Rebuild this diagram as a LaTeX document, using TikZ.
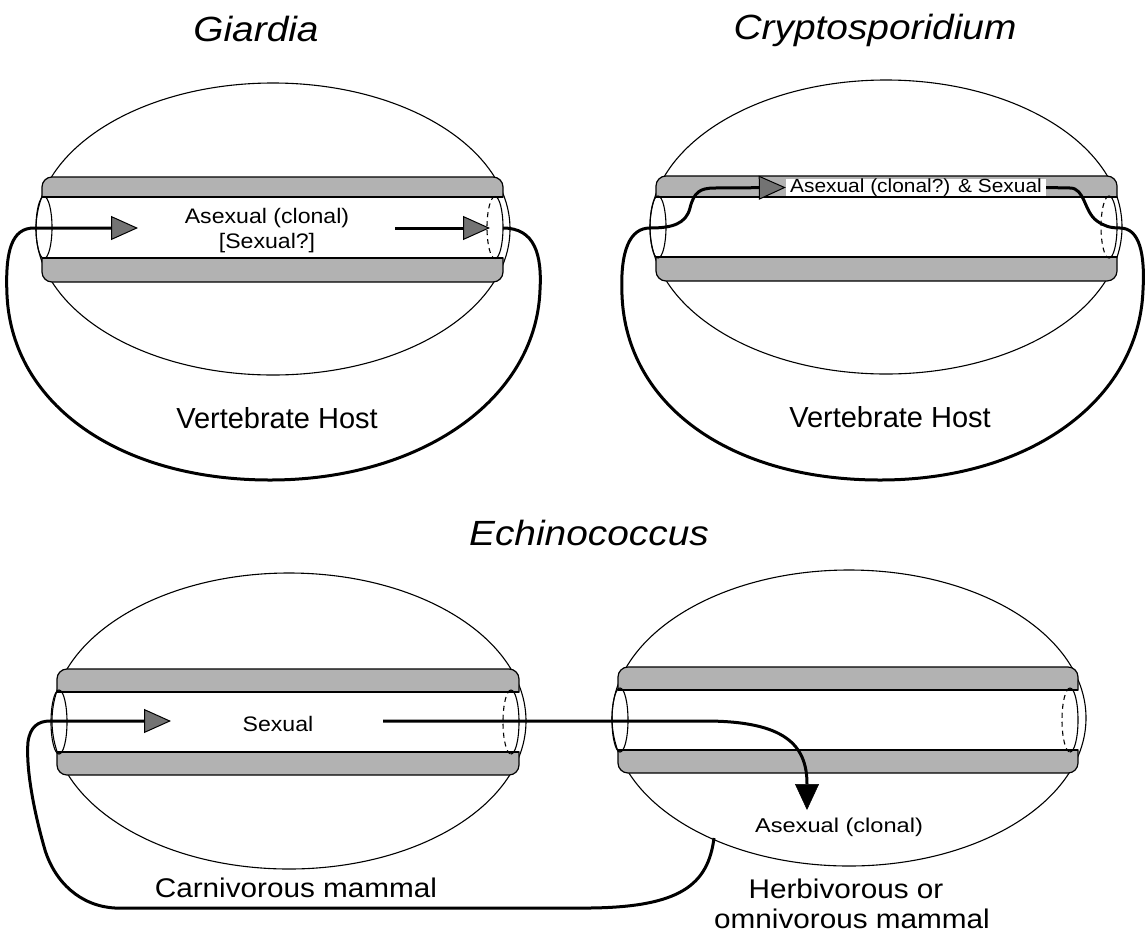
\documentclass[tikz,border=0pt]{standalone}
\usepackage{fontspec}
\setmainfont{Liberation Sans}
\usepackage{graphicx}
\usetikzlibrary{arrows.meta}
\newcommand\hx[2]{\scalebox{#1}[1]{#2}}
\newcommand\fs[1]{\fontsize{#1}{#1}\selectfont}
% tube: #1 xl, #2 xr, #3 t1, #4 t2, #5 b1, #6 b2, #7 cy, #8 ry
\newcommand\drawtube[8]{%
  \filldraw[band] (#1,-#4) -- (#1,-#3-10) arc[start angle=180,end angle=90,radius=10]
     -- (#2-10,-#3) arc[start angle=90,end angle=0,radius=10] -- (#2,-#4) -- cycle;
  \filldraw[band] (#1,-#5) -- (#1,-#6+10) arc[start angle=180,end angle=270,radius=10]
     -- (#2-10,-#6) arc[start angle=270,end angle=360,radius=10] -- (#2,-#5) -- cycle;
  \draw[edge] (#1,-#4) -- (#2,-#4);
  \draw[edge] (#1,-#5) -- (#2,-#5);
  \draw[host] (#1+2,-#7) ellipse [x radius=8, y radius=#8];
  \draw[host, dash pattern=on 5pt off 4pt] (#2-8,-#7+#8) arc[start angle=90,end angle=270,x radius=8,y radius=#8];
  \draw[host] (#2-8,-#7-#8) arc[start angle=270,end angle=450,x radius=8,y radius=#8];
}
\tikzset{
  host/.style={line width=1.1pt},
  band/.style={fill=black!30, draw=black, line width=1.2pt},
  edge/.style={line width=2pt},
  loopline/.style={line width=3pt},
  tipG/.style={-{Triangle[length=27pt,width=24pt,line width=1pt,fill=black!55]}},
  tipK/.style={-{Triangle[length=26pt,width=24pt,line width=0.5pt]}},
  ttl/.style={font=\fs{35}\itshape, inner sep=0pt, anchor=base},
  lbl/.style={inner sep=0pt, anchor=base}
}
\begin{document}
\begin{tikzpicture}[x=1pt,y=1pt]
\useasboundingbox (0,0) rectangle (1148,-935);
% titles
\node[ttl] (tG) at (256,-41) {\hx{1.11}{Giardia}};
\node[ttl] (tC) at (875,-39) {\hx{1.11}{Cryptosporidium}};
\node[ttl] (tE) at (589,-545) {\hx{1.11}{Echinococcus}};

% ---------------- Giardia ----------------
\draw[host] (273,-229) ellipse [x radius=237, y radius=146];
\drawtube{42}{503}{177}{197}{258}{282}{227.5}{31}
\node[lbl, font=\fs{21}] (g1) at (267,-223) {\hx{1.1}{Asexual (clonal)}};
\node[lbl, font=\fs{21}] (g2) at (267,-248) {\hx{1.1}{[Sexual?]}};
\node[lbl, font=\fs{29}] (gH) at (277,-428) {Vertebrate Host};
\coordinate (gL) at (34,-228);
\coordinate (gA) at (138,-228);
\coordinate (gB) at (395,-228);
\coordinate (gC) at (490,-228);
\coordinate (gR) at (503,-228);
\draw[loopline, tipG] (gR) .. controls (535,-228) and (542,-255) .. (540,-290)
  .. controls (536,-400) and (420,-480) .. (270,-480)
  .. controls (120,-480) and (12,-405) .. (7,-295)
  .. controls (5,-250) and (12,-228) .. (gL) -- (gA);
\draw[loopline, tipG] (gB) -- (gC);

% ---------------- Cryptosporidium ----------------
\draw[host] (886,-227) ellipse [x radius=236, y radius=147];
\drawtube{656}{1117}{176}{197}{257}{281}{227}{31}
\node[fill=white, minimum width=260pt, minimum height=17pt, inner sep=0pt, font=\fs{19}] (cbox) at (916,-187.5) {\hx{1.1}{Asexual (clonal?) \& Sexual}};
\node[lbl, font=\fs{29}] (cH) at (890,-427) {Vertebrate Host};
\coordinate (cL) at (650,-228);
\coordinate (cR) at (1120,-228);
\draw[loopline, tipG] (cbox.east) -- (1070,-188)
  .. controls (1085,-188) and (1084,-212) .. (1097,-221)
  .. controls (1104,-226) and (1110,-228) .. (cR)
  .. controls (1140,-228) and (1145,-255) .. (1143,-290)
  .. controls (1139,-400) and (1030,-480) .. (880,-480)
  .. controls (730,-480) and (626,-405) .. (622,-295)
  .. controls (620,-250) and (630,-228) .. (cL)
  .. controls (672,-228) and (686,-224) .. (690,-208)
  .. controls (694,-192) and (700,-188) .. (715,-188) -- (cbox.west);

% ---------------- Echinococcus ----------------
\draw[host] (289,-721) ellipse [x radius=237, y radius=148];
\draw[host] (849,-718) ellipse [x radius=237, y radius=148];
\drawtube{57}{519}{669}{692}{752}{775}{722}{32}
\drawtube{618}{1078}{667}{690}{750}{773}{720}{32}
\node[lbl, font=\fs{21}] (eS) at (278,-731) {\hx{1.1}{Sexual}};
\node[lbl, font=\fs{20}] (eAs) at (839,-832) {\hx{1.18}{Asexual (clonal)}};
\node[lbl, font=\fs{27}] (eC) at (296,-897) {\hx{1.1}{Carnivorous mammal}};
\node[lbl, font=\fs{27}] (eH1) at (846,-898) {\hx{1.1}{Herbivorous or}};
\node[lbl, font=\fs{27}] (eH2) at (852,-928) {\hx{1.1}{omnivorous mammal}};
\coordinate (eL) at (50,-721);
\coordinate (eA) at (171,-721);
\coordinate (eB) at (383,-721);
\coordinate (eD) at (807,-810);
\coordinate (eR) at (714,-838);
\draw[loopline, tipG] (eR) .. controls (708,-885) and (680,-907) .. (590,-908) -- (115,-908)
  .. controls (80,-906) and (55,-882) .. (45,-850)
  .. controls (32,-805) and (26,-765) .. (28,-742)
  .. controls (30,-727) and (38,-721) .. (eL) -- (eA);
\draw[loopline, tipK] (eB) -- (705,-721) .. controls (785,-721) and (807,-745) .. (eD);
\end{tikzpicture}
\end{document}
